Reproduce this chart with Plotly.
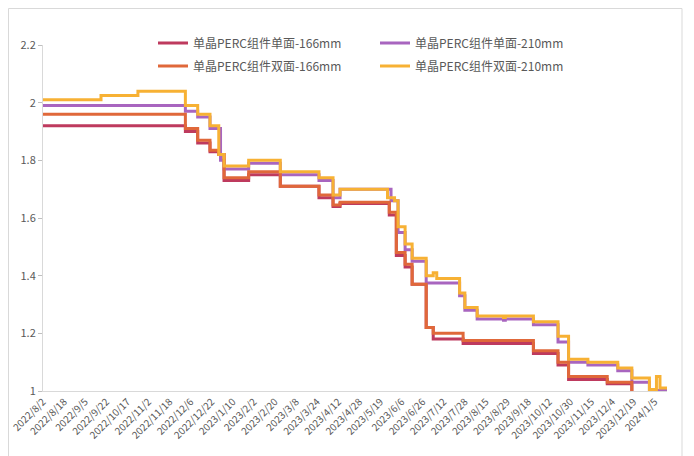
import plotly.graph_objects as go

# Category tick labels (every 12th trading day)
tick_labels = ["2022/8/2", "2022/8/18", "2022/9/5", "2022/9/22", "2022/10/17", "2022/11/2",
               "2022/11/18", "2022/12/6", "2022/12/22", "2023/1/10", "2023/2/2", "2023/2/20",
               "2023/3/8", "2023/3/24", "2023/4/12", "2023/4/28", "2023/5/19", "2023/6/6",
               "2023/6/26", "2023/7/12", "2023/7/28", "2023/8/15", "2023/8/29", "2023/9/18",
               "2023/10/12", "2023/10/30", "2023/11/15", "2023/12/4", "2023/12/19", "2024/1/5"]
label_step = 12
n_points = 356

# Price change points: trading-day index and price (yuan/W)
mono_166_idx = [0, 81, 88, 95, 100, 103, 117, 135, 157, 165, 169, 197, 201, 206, 210, 218, 222, 239,
                279, 293, 299, 321, 335, 355]
mono_166_val = [1.92, 1.90, 1.86, 1.83, 1.82, 1.73, 1.75, 1.71, 1.67, 1.64, 1.65, 1.61, 1.47, 1.43,
                1.37, 1.22, 1.18, 1.165, 1.13, 1.09, 1.04, 1.025, 0.98, 0.98]

mono_210_idx = [0, 81, 88, 95, 101, 103, 117, 135, 157, 165, 169, 198, 202, 206, 210, 218, 237, 240,
                247, 262, 263, 279, 293, 299, 310, 327, 335, 345, 355]
mono_210_val = [1.99, 1.97, 1.95, 1.91, 1.80, 1.77, 1.79, 1.75, 1.73, 1.67, 1.70, 1.66, 1.55, 1.49,
                1.45, 1.375, 1.33, 1.28, 1.25, 1.245, 1.25, 1.23, 1.17, 1.10, 1.09, 1.07, 1.03,
                1.002, 1.002]

bi_166_idx = [0, 81, 88, 95, 100, 103, 117, 135, 157, 165, 169, 197, 201, 206, 210, 218, 222, 239,
              279, 293, 299, 321, 335, 355]
bi_166_val = [1.96, 1.91, 1.87, 1.835, 1.82, 1.74, 1.76, 1.71, 1.68, 1.645, 1.655, 1.62, 1.48, 1.44,
              1.37, 1.22, 1.20, 1.175, 1.14, 1.10, 1.05, 1.03, 0.98, 0.98]

bi_210_idx = [0, 33, 54, 81, 88, 95, 100, 103, 117, 135, 157, 165, 169, 196, 200, 202, 206, 210,
              218, 222, 224, 237, 240, 247, 262, 263, 279, 293, 299, 310, 327, 335, 345, 349, 351, 355]
bi_210_val = [2.01, 2.025, 2.04, 1.99, 1.96, 1.92, 1.82, 1.78, 1.80, 1.76, 1.74, 1.68, 1.70, 1.67,
              1.66, 1.57, 1.51, 1.46, 1.40, 1.41, 1.39, 1.34, 1.29, 1.26, 1.255, 1.26, 1.24, 1.19,
              1.11, 1.10, 1.08, 1.045, 1.005, 1.05, 1.01, 1.01]

series = [
    ("单晶PERC组件单面-166mm", mono_166_idx, mono_166_val, "#BE3A5E", "legend"),
    ("单晶PERC组件单面-210mm", mono_210_idx, mono_210_val, "#A865BF", "legend"),
    ("单晶PERC组件双面-166mm", bi_166_idx, bi_166_val, "#E0683A", "legend2"),
    ("单晶PERC组件双面-210mm", bi_210_idx, bi_210_val, "#F7B134", "legend2"),
]

y_ticks = [1, 1.2, 1.4, 1.6, 1.8, 2, 2.2]
y_tick_text = ["1", "1.2", "1.4", "1.6", "1.8", "2", "2.2"]

fig = go.Figure()
for name, xs, ys, color, lg in series:
    fig.add_trace(go.Scatter(x=xs, y=ys, name=name, mode="lines", legend=lg,
                             line=dict(color=color, width=3, shape="hv")))

# plot area (figure px): left 35, right 659, top 37, bottom 383
L, R, T, B = 35, 659, 37, 383
PW, PH = R - L, B - T
LEG_X = 145  # figure px of legend left edge

font_family = "Noto Sans CJK SC, Noto Sans, sans-serif"
legend_common = dict(orientation="h", xanchor="left", yanchor="middle",
                     entrywidth=177, entrywidthmode="pixels",
                     font=dict(size=12, color="#595959"), bgcolor="rgba(0,0,0,0)")
fig.update_layout(
    width=694, height=456,
    margin=dict(l=L, r=694 - R, t=T, b=456 - B, autoexpand=False),
    paper_bgcolor="white", plot_bgcolor="white",
    font=dict(family=font_family, color="#595959", size=11),
    showlegend=True,
    legend=dict(x=(LEG_X - L) / PW, y=(B - 35) / PH, **legend_common),
    legend2=dict(x=(LEG_X - L) / PW, y=(B - 58) / PH, **legend_common),
    xaxis=dict(range=[0, n_points - 1], showgrid=False, zeroline=False,
               tickvals=[i * label_step for i in range(len(tick_labels))],
               ticktext=tick_labels, tickangle=-45, ticks="",
               showline=True, linecolor="#D9D9D9", linewidth=1, automargin=False,
               tickfont=dict(size=10, color="#595959")),
    yaxis=dict(range=[1, 2.2], showgrid=False, zeroline=False,
               tickvals=y_ticks, ticktext=y_tick_text,
               ticks="outside", ticklen=4, tickcolor="#BFBFBF",
               showline=True, linecolor="#D9D9D9", linewidth=1, automargin=False,
               tickfont=dict(size=11, color="#595959")),
    shapes=[dict(type="rect", xref="paper", yref="paper",
                 x0=(0.5 - L) / PW, x1=(674 - L) / PW,
                 y0=(B - 470) / PH, y1=(B - 0.5) / PH,
                 line=dict(color="#D9D9D9", width=1), fillcolor="rgba(0,0,0,0)",
                 layer="below")],
)

fig.write_html("out.html")
